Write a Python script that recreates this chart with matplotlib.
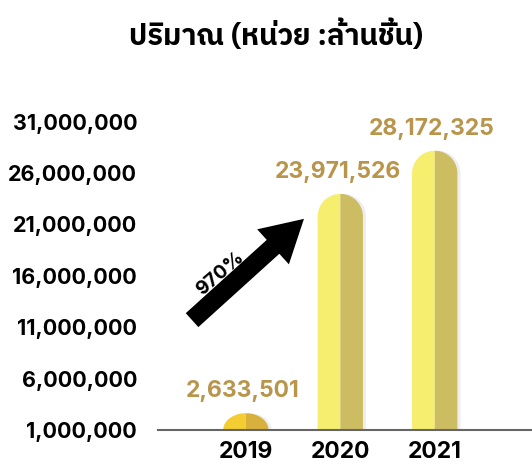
import numpy as np
import matplotlib
matplotlib.use("Agg")
import matplotlib.pyplot as plt
from matplotlib import font_manager
from matplotlib.ft2font import FT2Font

years = ["2019", "2020", "2021"]
values = [2633501, 23971526, 28172325]
value_labels = ["2,633,501", "23,971,526", "28,172,325"]
tick_values = [1000000, 6000000, 11000000, 16000000, 21000000, 26000000, 31000000]
title = "ปริมาณ (หน่วย :ล้านชิ้น)"
growth_label = "970%"

# find a sans font that can draw Thai
thai_fonts = []
for f in font_manager.fontManager.ttflist:
    try:
        if ord("ป") in FT2Font(f.fname).get_charmap():
            thai_fonts.append(f.name)
    except Exception:
        pass
sans = [n for n in thai_fonts if "Sans" in n and "Looped" not in n]
thai_font = sans[0] if sans else (thai_fonts[0] if thai_fonts else None)
title_family = [thai_font, "DejaVu Sans"] if thai_font else ["DejaVu Sans"]

plt.rcParams['font.family'] = ['Inter', 'Liberation Sans', 'DejaVu Sans']

fig = plt.figure(figsize=(5.32, 4.69), dpi=100)
ax = fig.add_axes([158/532, 39/469, 374/532, 370/469])

ymin, ymax = 1000000, 37000000
ax.set_xlim(-0.93, 3.03)
ax.set_ylim(ymin, ymax)

light = ["#F4CD33", "#F6EE6E", "#F6EE6E"]
dark = ["#D8B13C", "#CDBD62", "#CDBD62"]
width = 0.48

# data units per pixel, used to make round caps
ax_h_px = 370
ax_w_px = 374
y_per_px = (ymax - ymin) / ax_h_px
x_per_px = (3.03 + 0.93) / ax_w_px

for i, v in enumerate(values):
    half = width / 2
    r_px = half / x_per_px
    vis = v - ymin
    cap = min(r_px * y_per_px, vis * 0.999)
    ys = v - cap
    t_left = np.linspace(np.pi, np.pi / 2, 40)
    t_right = np.linspace(np.pi / 2, 0, 40)
    xl = np.concatenate([[i - half, i - half], i + half * np.cos(t_left), [i, i]])
    yl = np.concatenate([[ymin, ys], ys + cap * np.sin(t_left), [v, ymin]])
    xr = np.concatenate([[i, i], i + half * np.cos(t_right), [i + half, i + half]])
    yr = np.concatenate([[ymin, v], ys + cap * np.sin(t_right), [ys, ymin]])
    # soft shadow on the right side
    ax.fill(xr + 3 * x_per_px, yr, color="#EDEDF2", lw=0, zorder=1)
    ax.fill(xl, yl, color=light[i], lw=0, zorder=2)
    ax.fill(xr, yr, color=dark[i], lw=0, zorder=2)
    ax.annotate(value_labels[i], (i, v), xytext=(-2, 8), textcoords="offset points",
                ha="center", va="bottom", fontsize=16.5, fontweight="bold", color="#B8954A")

ax.set_xticks(range(len(years)))
ax.set_xticklabels(years, fontsize=16.5, fontweight="bold")
ax.set_yticks(tick_values)
ax.set_yticklabels([f"{t:,}" for t in tick_values], fontsize=15.5, fontweight="bold")
ax.tick_params(axis="y", length=0, pad=15)
ax.tick_params(axis="x", length=0, pad=8)

for s in ["top", "right", "left"]:
    ax.spines[s].set_visible(False)
ax.spines["bottom"].set_color("#666666")
ax.spines["bottom"].set_linewidth(1.5)
ax.spines["bottom"].set_zorder(3)

# growth arrow
ax.annotate("", xy=(306/532, 1 - 217/469), xycoords="figure fraction",
            xytext=(190/532, 1 - 322/469), textcoords="figure fraction",
            arrowprops=dict(arrowstyle="simple,head_width=3.4,head_length=3.0,tail_width=1.35",
                            color="black", lw=0))
fig.text(220/532, 1 - 274/469, growth_label, rotation=41, ha="center", va="center",
         fontsize=14, fontweight="bold")

fig.text(276/532, 1 - 35/469, title, ha="center", va="center", fontsize=21,
         fontweight="bold", family=title_family)

fig.savefig("out.png", dpi=100)
